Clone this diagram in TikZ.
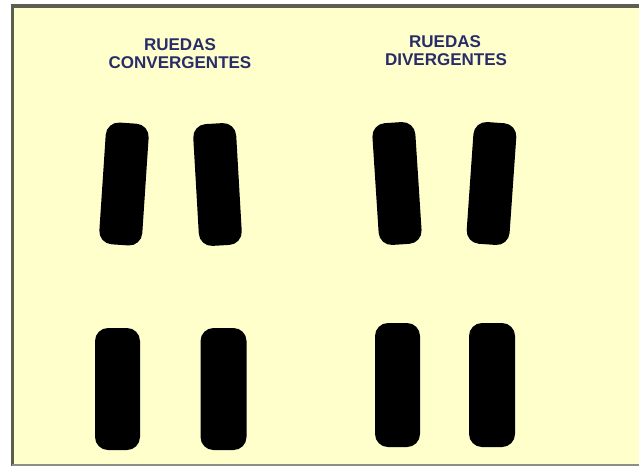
\documentclass[tikz,border=0pt]{standalone}
\usepackage{fontspec}
\setmainfont{Liberation Sans}
\definecolor{bgyellow}{HTML}{FFFFCC}
\definecolor{framegrey}{HTML}{5C5E52}
\definecolor{titleblue}{HTML}{282C68}
\begin{document}
\begin{tikzpicture}[x=1pt,y=-1pt,
  tire/.style={fill=black, draw=none, rounded corners=13pt, minimum width=43pt, minimum height=122pt, inner sep=0pt},
  title/.style={text=titleblue, font=\fontsize{17}{19}\selectfont\bfseries, inner sep=0pt, anchor=base}]
\useasboundingbox (0,0) rectangle (639,466);
\fill[white] (0,0) rectangle (639,466);
\fill[bgyellow] (12,6) rectangle (639,464);
\draw[framegrey, line width=3.5pt] (12.5,466) -- (12.5,6) -- (639,6);
\draw[framegrey!70, line width=2pt] (12,464.5) -- (639,464.5);
% titles
\node[title] (c1) at (180,50) {RUEDAS};
\node[title] (c2) at (180,68) {CONVERGENTES};
\node[title] (d1) at (445,47) {RUEDAS};
\node[title] (d2) at (446,65) {DIVERGENTES};
% top row (tilted)
\node[tire, rotate=-3.8] (t1) at (124,184) {};
\node[tire, rotate=3.3] (t2) at (217.5,184.5) {};
\node[tire, rotate=3.7] (t3) at (397,183.5) {};
\node[tire, rotate=-4] (t4) at (491.5,183.5) {};
% bottom row (straight)
\node[tire, minimum width=45pt] (t5) at (117.5,389) {};
\node[tire, minimum width=46pt] (t6) at (223.5,389) {};
\node[tire, minimum width=45pt, minimum height=124pt] (t7) at (397.5,385) {};
\node[tire, minimum width=46pt, minimum height=124pt] (t8) at (492,385) {};
\end{tikzpicture}
\end{document}
